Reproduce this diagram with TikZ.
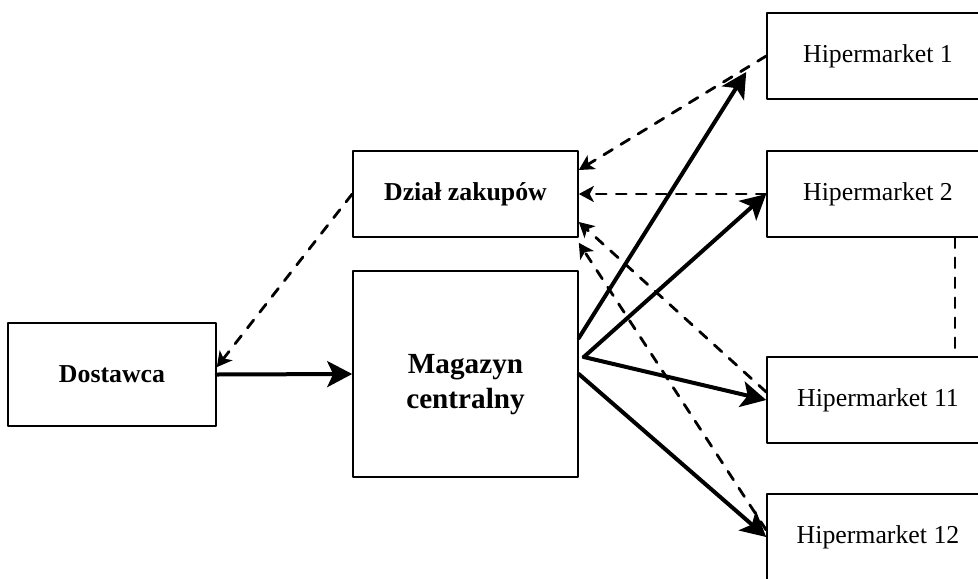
\documentclass[tikz,border=0pt]{standalone}
\usepackage{fontspec}
\setmainfont{Liberation Serif}
\usetikzlibrary{arrows.meta}

\tikzset{
  box/.style={draw, line width=0.8pt, inner sep=2pt, font=\fontsize{12.9}{15}\selectfont},
  boldbox/.style={box, font=\fontsize{12.9}{15}\selectfont\bfseries},
  hmbox/.style={box, minimum width=111pt, minimum height=43pt},
  flow/.style={line width=2pt, -{Stealth[length=12.5pt,width=13pt,inset=3pt]}},
  info/.style={line width=1.4pt, dash pattern=on 5pt off 5pt, -{Stealth[length=7.5pt,width=8pt,inset=2pt]}}
}

\begin{document}
\begin{tikzpicture}[x=0.5pt, y=-0.5pt, line join=round, line cap=round]
  \useasboundingbox (0,0) rectangle (978,578);
  % boxes
  \node[boldbox, minimum width=104pt, minimum height=51.5pt] (dostawca) at (112,374.5) {Dostawca};
  \node[boldbox, minimum width=112.5pt, minimum height=43pt] (dzial) at (465.5,194) {Dział zakupów};
  \node[box, minimum width=112.5pt, minimum height=103pt,
        label={[align=center, yshift=-5.5pt, font=\fontsize{14.6}{17.5}\selectfont\bfseries]center:{Magazyn\\centralny}}]
        (magazyn) at (465.5,374) {};
  \foreach \n/\y in {1/56, 2/194, 11/400, 12/537}
    \node[hmbox] (hm\n) at (878,\y) {Hipermarket \n};
  \coordinate (fan) at ([shift={(2.5pt,8.5pt)}]magazyn.east);

  % goods
  \draw[flow] (dostawca.east) -- (magazyn.west);
  \draw[flow] ([yshift=18pt]magazyn.east) -- ([shift={(-10pt,-8pt)}]hm1.west);
  \foreach \n in {2,11}
    \draw[flow] (fan) -- (hm\n.west);
  \draw[flow] (magazyn.east) -- (hm12.west);

  % orders
  \draw[info] (dzial.west) -- (dostawca.4);
  \draw[info] (hm1.west) -- ([yshift=12pt]dzial.east);
  \draw[info] (hm2.west) -- (dzial.east);
  \draw[info] ([yshift=4pt]hm11.west) -- ([yshift=-14pt]dzial.east);
  \draw[info] ([yshift=3.5pt]hm12.west) -- ([yshift=-2.5pt]dzial.south east);
  \draw[info, -] ([xshift=38.5pt]hm2.south) -- ([xshift=38.5pt]hm11.north);
\end{tikzpicture}
\end{document}
